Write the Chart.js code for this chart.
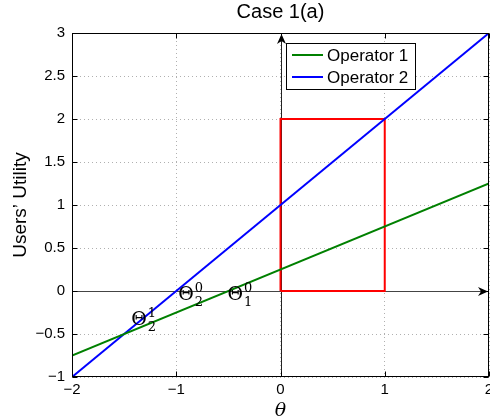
<!DOCTYPE html>
<html>
<head>
<meta charset="utf-8">
<script src="https://cdn.jsdelivr.net/npm/chart.js@4/dist/chart.umd.min.js"></script>
<style>
  html, body { margin: 0; padding: 0; background: #fff; }
  #wrap { width: 490px; height: 419px; }
</style>
</head>
<body>
<div id="wrap"><canvas id="c" width="490" height="419"></canvas></div>
<script>
// Axis ranges and ticks
const thetaRange = [-2, 2];
const utilityRange = [-1, 3];
const thetaTicks = [-2, -1, 0, 1, 2];
const utilityTicks = [-1, -0.5, 0, 0.5, 1, 1.5, 2, 2.5, 3];

// Utility lines of the two operators, sampled at the ends of the theta range
const lineTheta = [-2, 2];
const seriesNames = ['Operator 1', 'Operator 2'];
const operator1Utility = [-0.75, 1.25];
const operator2Utility = [-1, 3];

// Feasible region outline
const regionTheta = [0, 0, 1, 1, 0];
const regionUtility = [0, 2, 2, 0, 0];

// Threshold points: [symbol, superscript, subscript]
const pointNames = [['Θ', '0', '2'], ['Θ', '0', '1'], ['Θ', '1', '2']];
const pointTheta = [-1, -0.5, -1.5];
const pointUtility = [0, 0, -0.5];

const SANS = '"Liberation Sans", Arial, Helvetica, sans-serif';
const SERIF = '"DejaVu Serif", "Liberation Serif", serif';
const fmt = v => String(v).replace('-', '\u2212');
const pts = (xs, ys) => xs.map((v, i) => ({ x: v, y: ys[i] }));

function arrowHead(ctx, tipX, tipY, dirX, dirY) {
  const len = 10, half = 4.5, notch = 3;
  const px = -dirY, py = dirX;
  ctx.beginPath();
  ctx.moveTo(tipX, tipY);
  ctx.lineTo(tipX - dirX * len + px * half, tipY - dirY * len + py * half);
  ctx.lineTo(tipX - dirX * (len - notch), tipY - dirY * (len - notch));
  ctx.lineTo(tipX - dirX * len - px * half, tipY - dirY * len - py * half);
  ctx.closePath();
  ctx.fill();
}

const decor = {
  id: 'decor',
  beforeDatasetsDraw(chart) {
    const { ctx, chartArea: a, scales: { x, y } } = chart;
    const x0 = Math.round(x.getPixelForValue(0)) + 0.5;
    const y0 = Math.round(y.getPixelForValue(0)) + 0.5;
    ctx.save();
    ctx.lineWidth = 1;
    ctx.strokeStyle = '#444';
    ctx.beginPath();
    ctx.moveTo(a.left, y0); ctx.lineTo(a.right - 4, y0);
    ctx.stroke();
    ctx.strokeStyle = '#222';
    ctx.beginPath();
    ctx.moveTo(x0, a.bottom); ctx.lineTo(x0, a.top + 4);
    ctx.stroke();
    ctx.fillStyle = '#000';
    arrowHead(ctx, a.right - 1, y0, 1, 0);
    arrowHead(ctx, x0, a.top + 1, 0, -1);
    ctx.restore();
  },
  afterDatasetsDraw(chart) {
    const { ctx, chartArea: a, scales: { x, y } } = chart;
    ctx.save();

    // frame
    ctx.strokeStyle = '#000';
    ctx.lineWidth = 1;
    const L = Math.round(a.left) + 0.5, R = Math.round(a.right) - 0.5;
    const T = Math.round(a.top) + 0.5, B = Math.round(a.bottom) - 0.5;
    ctx.strokeRect(L, T, R - L, B - T);

    // inward tick marks on all four sides
    const tl = 5;
    ctx.beginPath();
    thetaTicks.forEach(v => {
      const px = Math.round(x.getPixelForValue(v)) + 0.5;
      ctx.moveTo(px, B); ctx.lineTo(px, B - tl);
      ctx.moveTo(px, T); ctx.lineTo(px, T + tl);
    });
    utilityTicks.forEach(v => {
      const py = Math.round(y.getPixelForValue(v)) + 0.5;
      ctx.moveTo(L, py); ctx.lineTo(L + tl, py);
      ctx.moveTo(R, py); ctx.lineTo(R - tl, py);
    });
    ctx.stroke();

    // threshold labels
    ctx.fillStyle = '#000';
    ctx.textBaseline = 'alphabetic';
    ctx.textAlign = 'left';
    const offs = [[2, 9], [-1, 9], [7, -9]];
    pointNames.forEach((n, i) => {
      const px = x.getPixelForValue(pointTheta[i]) + offs[i][0];
      const py = y.getPixelForValue(pointUtility[i]) + offs[i][1];
      ctx.font = '19px ' + SERIF;
      ctx.fillText(n[0], px, py);
      const w = ctx.measureText(n[0]).width;
      ctx.font = '13px ' + SERIF;
      ctx.fillText(n[1], px + w + 1, py - 8);
      ctx.fillText(n[2], px + w + 1, py + 6);
    });

    // legend
    const lx = 286.5, ly = 43.5, lw = 129, lh = 46;
    ctx.fillStyle = '#fff';
    ctx.fillRect(lx, ly, lw, lh);
    ctx.strokeStyle = '#000';
    ctx.lineWidth = 1;
    ctx.strokeRect(lx, ly, lw, lh);
    const colors = ['#008000', '#0000ff'];
    ctx.font = '17px ' + SANS;
    ctx.textBaseline = 'middle';
    seriesNames.forEach((s, i) => {
      const yy = 55 + i * 22;
      ctx.strokeStyle = colors[i];
      ctx.lineWidth = 2;
      ctx.beginPath();
      ctx.moveTo(292, yy); ctx.lineTo(323, yy);
      ctx.stroke();
      ctx.fillStyle = '#000';
      ctx.fillText(s, 327, yy + 1);
    });

    // title
    ctx.font = '20px ' + SANS;
    ctx.textAlign = 'center';
    ctx.textBaseline = 'middle';
    ctx.fillText('Case 1(a)', (a.left + a.right) / 2, 12);
    ctx.restore();
  }
};

new Chart(document.getElementById('c'), {
  type: 'line',
  data: {
    datasets: [
      { label: seriesNames[0], data: pts(lineTheta, operator1Utility), borderColor: '#008000', borderWidth: 2, pointRadius: 0, fill: false, tension: 0 },
      { label: seriesNames[1], data: pts(lineTheta, operator2Utility), borderColor: '#0000ff', borderWidth: 2, pointRadius: 0, fill: false, tension: 0 },
      { label: 'region', data: pts(regionTheta, regionUtility), borderColor: '#ff0000', borderWidth: 2, pointRadius: 0, fill: false, tension: 0 }
    ]
  },
  options: {
    responsive: false,
    animation: false,
    devicePixelRatio: 1,
    layout: { padding: { top: 33, right: 1, left: 0, bottom: 0 } },
    plugins: { legend: { display: false }, tooltip: { enabled: false }, title: { display: false } },
    scales: {
      x: {
        type: 'linear', min: thetaRange[0], max: thetaRange[1],
        afterBuildTicks: s => { s.ticks = thetaTicks.map(v => ({ value: v })); },
        afterFit: s => { s.height = 42; s.paddingLeft = 0; s.paddingRight = 0; },
        ticks: { callback: fmt, color: '#000', font: { family: SANS, size: 15 }, padding: 4, maxRotation: 0, autoSkip: false },
        grid: { color: '#b0b0b0', lineWidth: 1, drawTicks: false },
        border: { display: false, dash: [1, 3] },
        title: { display: true, text: 'θ', color: '#000', font: { family: SERIF, size: 19, style: 'italic' }, padding: { top: 0, bottom: -3 } }
      },
      y: {
        type: 'linear', min: utilityRange[0], max: utilityRange[1],
        afterBuildTicks: s => { s.ticks = utilityTicks.map(v => ({ value: v })); },
        afterFit: s => { s.width = 72; s.paddingTop = 0; s.paddingBottom = 0; },
        ticks: { callback: fmt, color: '#000', font: { family: SANS, size: 15 }, padding: 7, autoSkip: false },
        grid: { color: '#b0b0b0', lineWidth: 1, drawTicks: false },
        border: { display: false, dash: [1, 3] },
        title: { display: true, text: 'Users\u2019 Utility', color: '#000', font: { family: SANS, size: 19 }, padding: { top: 9, bottom: 0 } }
      }
    }
  },
  plugins: [decor]
});
</script>
</body>
</html>
